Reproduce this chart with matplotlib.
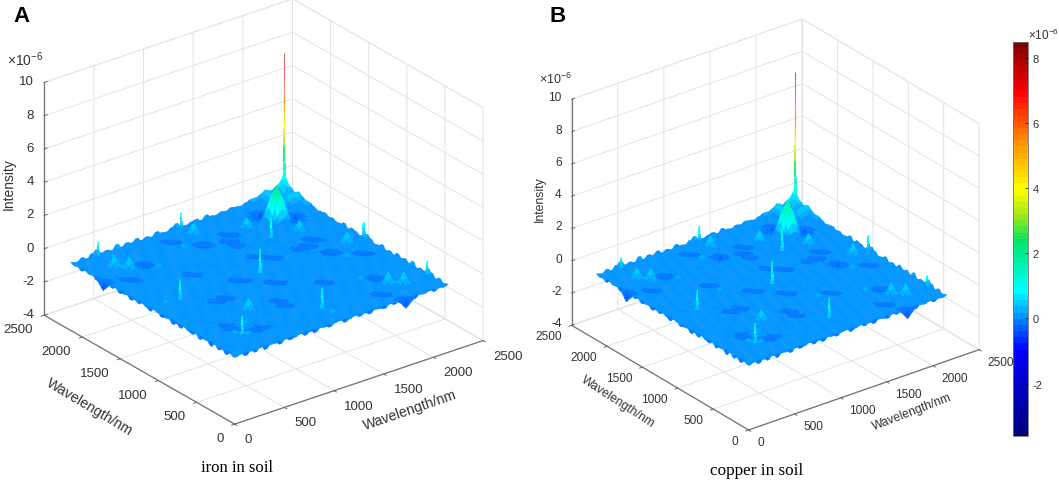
"""Two 2D correlation surfaces (iron and copper in soil) with a shared colorbar."""

import matplotlib

matplotlib.use("Agg")
import matplotlib.pyplot as plt
import numpy as np
from matplotlib.cm import ScalarMappable
from matplotlib.colors import LinearSegmentedColormap, Normalize
from mpl_toolkits.mplot3d import proj3d

plt.rcParams["font.family"] = ["Liberation Sans", "DejaVu Sans"]
plt.rcParams["mathtext.default"] = "regular"
plt.rcParams["axes.unicode_minus"] = False

W, H = 1059, 481
gray = (0.2, 0.2, 0.2)

wavelength_step = 25
wavelength_max = 2150
axis_ticks = [0, 500, 1000, 1500, 2000, 2500]
z_ticks = [-4, -2, 0, 2, 4, 6, 8, 10]
colorbar_ticks = [-2, 0, 2, 4, 6, 8]
z_min, z_max = -3.6, 8.5

# colour stops of the figure's colorbar: intensity, colour
stop_z = [-3.6, -1.0, 0.8, 2.4, 3.1, 4.0, 5.5, 7.0, 8.5]
stop_rgb = [(0, 0, 0.5), (0, 0, 1), (0, 1, 1), (0, 0.9, 0.4), (0.6, 0.9, 0.1),
            (1, 1, 0), (1, 0.55, 0), (1, 0, 0), (0.5, 0, 0)]

# the large cone in front of the main spike
cone_x, cone_y = 1800, 1800
cone_iron, cone_copper = 2.0, 1.95

# broad bumps, mirrored across the diagonal (x, y in nm, height in 1e-6)
broad_x = [1510, 1100, 300, 215, 885, 600, 1950, 2050, 2100, 2000]
broad_y = [1810, 1970, 1770, 1880, 1800, 600, 2100, 1950, 2100, 2000]
broad_iron = [0.7, 0.7, 0.8, 0.8, 0.4, 0.8, 0.5, 0.5, 0.6, 0.4]
broad_copper = [0.7, 0.75, 0.8, 0.75, 0.45, 0.7, 0.6, 0.4, 0.6, 0.5]

# small bumps
small_x = [500, 1000, 850, 650, 425, 1300, 1250, 150, 750, 325, 1500, 400, 200, 1600, 700]
small_y = [1650, 1250, 1450, 1250, 425, 1500, 800, 1100, 150, 250, 1450, 1000, 575, 1150, 400]
small_iron = [0.3, 0.25, 0.2, 0.25, 0.3, 0.25, 0.2, 0.3, 0.2, 0.3, 0.2, 0.2, 0.25, 0.2, 0.2]
small_copper = [0.3, 0.2, 0.25, 0.3, 0.35, 0.2, 0.25, 0.25, 0.25, 0.35, 0.2, 0.25, 0.2, 0.2, 0.25]

# dents
dent_x = [1335, 1050, 455, 870, 1760, 0, 880, 1070, 1250, 650, 200, 1900, 900, 500, 300, 1700, 1350, 600]
dent_y = [1800, 1780, 1770, 1980, 1950, 1720, 1090, 900, 1600, 1400, 1620, 1700, 500, 300, 425, 1250, 1250, 900]
dent_iron = [-0.25, -0.35, -0.35, -0.2, -0.4, -0.35, -0.14, -0.14, -0.18, -0.14, -0.18,
             -0.35, -0.1, -0.1, -0.1, -0.14, -0.12, -0.12]
dent_copper = [-0.25, -0.4, -0.35, -0.2, -0.4, -0.4, -0.12, -0.15, -0.18, -0.16, -0.2,
               -0.35, -0.14, -0.1, -0.14, -0.12, -0.14, -0.14]

# intensity along the far rim (y = 2150) and the near rim (y = 0), every 50 nm
rim_far = [0.05, 0.0, 0.15, 0.0, 0.2, 0.35, 0.05, 0.1, 0.0, 0.25, 0.0, 0.15, 0.05, 0.2, 0.0, 0.1,
           0.0, 0.2, 0.05, 0.0, 0.15, 0.3, 0.05, 0.0, 0.1, 0.15, 0.0, 0.2, 0.05, 0.0, 0.1, 0.05,
           0.15, 0.1, 0.05, 0.15, 0.25, 0.25, 0.3, 0.4, 0.35, 0.45, 0.5, 0.55]
rim_near = [0.0, 0.08, -0.1, 0.05, -0.08, 0.1, -0.12, 0.05, 0.03, -0.1, 0.08, -0.05, 0.0, 0.1,
            -0.08, 0.03, -0.12, 0.05, 0.0, -0.08, 0.05, 0.1, -0.1, 0.0, 0.08, -0.05, 0.03, -0.1,
            0.05, 0.0, -0.08, 0.08, -0.03, 0.05, -0.15, -0.2, -0.1, 0.05, 0.0, 0.08, -0.05, 0.05, 0.0, 0.05]

# thin spikes, drawn from the sheet upward: x, y, top
needle_x = [1100, 300, 285, 1550, 1110, 255, 2150]
needle_y = [1100, 300, 1095, 1550, 2150, 2130, 1120]
needle_iron = [1.5, 1.2, 1.3, 1.3, 0.9, 0.9, 0.9]
needle_copper = [1.5, 1.3, 1.3, 1.4, 0.9, 0.7, 0.9]
needle_mirror = [False, False, True, False, True, True, False]
needle_steps = [0.0, 0.15, 0.3, 0.45, 0.6, 0.75, 0.9, 1.0]
needle_widths = [2.6, 2.2, 1.9, 1.6, 1.3, 1.1, 0.9]

# the main spike at the far corner
spike_levels = [0.3, 0.8, 1.3, 1.8, 2.3, 2.8, 3.3, 3.8, 4.3, 4.8, 5.3, 5.8, 6.3, 6.8, 7.3, 7.8, 8.35]
spike_widths = [3.0, 2.4, 2.0, 1.6, 1.4, 1.2, 1.1, 1.0, 1.0, 0.9, 0.9, 0.9, 0.8, 0.8, 0.8, 0.8]

cone_kernel = np.array([
    [0.00, 0.02, 0.08, 0.13, 0.16, 0.13, 0.08, 0.02, 0.00],
    [0.02, 0.12, 0.24, 0.34, 0.40, 0.34, 0.24, 0.12, 0.02],
    [0.08, 0.24, 0.42, 0.56, 0.64, 0.56, 0.42, 0.24, 0.08],
    [0.13, 0.34, 0.56, 0.74, 0.84, 0.74, 0.56, 0.34, 0.13],
    [0.16, 0.40, 0.64, 0.84, 1.00, 0.84, 0.64, 0.40, 0.16],
    [0.13, 0.34, 0.56, 0.74, 0.84, 0.74, 0.56, 0.34, 0.13],
    [0.08, 0.24, 0.42, 0.56, 0.64, 0.56, 0.42, 0.24, 0.08],
    [0.02, 0.12, 0.24, 0.34, 0.40, 0.34, 0.24, 0.12, 0.02],
    [0.00, 0.02, 0.08, 0.13, 0.16, 0.13, 0.08, 0.02, 0.00],
])
broad_kernel = np.array([
    [0.00, 0.00, 0.04, 0.08, 0.04, 0.00, 0.00],
    [0.00, 0.06, 0.16, 0.25, 0.16, 0.06, 0.00],
    [0.04, 0.16, 0.42, 0.60, 0.42, 0.16, 0.04],
    [0.08, 0.25, 0.60, 1.00, 0.60, 0.25, 0.08],
    [0.04, 0.16, 0.42, 0.60, 0.42, 0.16, 0.04],
    [0.00, 0.06, 0.16, 0.25, 0.16, 0.06, 0.00],
    [0.00, 0.00, 0.04, 0.08, 0.04, 0.00, 0.00],
])
small_kernel = np.array([
    [0.00, 0.10, 0.20, 0.10, 0.00],
    [0.10, 0.40, 0.65, 0.40, 0.10],
    [0.20, 0.65, 1.00, 0.65, 0.20],
    [0.10, 0.40, 0.65, 0.40, 0.10],
    [0.00, 0.10, 0.20, 0.10, 0.00],
])
# dents run across the diagonal
dent_kernel = np.array([
    [0.00, 0.00, 0.10, 0.30, 0.20],
    [0.00, 0.10, 0.50, 0.70, 0.30],
    [0.10, 0.50, 1.00, 0.50, 0.10],
    [0.30, 0.70, 0.50, 0.10, 0.00],
    [0.20, 0.30, 0.10, 0.00, 0.00],
])

cmap = LinearSegmentedColormap.from_list(
    "band_jet",
    [((z - z_min) / (z_max - z_min), c) for z, c in zip(stop_z, stop_rgb)],
    N=64,
)
norm = Normalize(z_min, z_max)


def stamp(surface, x, y, height, kernel):
    """Add one bump to the surface, and its mirror image off the diagonal."""
    r = kernel.shape[0] // 2
    last = surface.shape[0] - 1
    places = [(x, y)] if x == y else [(x, y), (y, x)]
    for px, py in places:
        i0, j0 = round(py / wavelength_step), round(px / wavelength_step)
        for di in range(-r, r + 1):
            for dj in range(-r, r + 1):
                i, j = i0 + di, j0 + dj
                if 0 <= i <= last and 0 <= j <= last:
                    surface[i, j] += height * kernel[di + r, dj + r]


def build_surface(cone, broad, small, dent):
    count = wavelength_max // wavelength_step + 1
    surface = np.zeros((count, count))
    stamp(surface, cone_x, cone_y, cone, cone_kernel)
    for x, y, h in zip(broad_x, broad_y, broad):
        stamp(surface, x, y, h, broad_kernel)
    for x, y, h in zip(small_x, small_y, small):
        stamp(surface, x, y, h, small_kernel)
    for x, y, h in zip(dent_x, dent_y, dent):
        stamp(surface, x, y, h, dent_kernel)
    far = np.repeat(rim_far, 2)[:count]
    near = np.repeat(rim_near, 2)[:count]
    surface[-1, :] += far
    surface[:, -1] += far
    surface[-2, :] += 0.5 * far
    surface[:, -2] += 0.5 * far
    surface[0, :] += near
    surface[:, 0] += near
    return surface


def add_text(x, y, text, **kwargs):
    kwargs.setdefault("ha", "center")
    kwargs.setdefault("va", "center")
    plt.gcf().text(x / W, 1 - y / H, text, **kwargs)


def tick_text(ax, point, text, dx, dy, ha, size):
    px, py, _ = proj3d.proj_transform(*point, ax.get_proj())
    ax.annotate(text, (px, py), xytext=(dx, dy), textcoords="offset pixels", ha=ha, va="center",
                fontsize=size, color=gray, annotation_clip=False)


def draw_panel(fig, center, side, elev, z_scale, tick_size, offsets, cone, broad, small, dent, needles):
    left = center[0] - 0.95 / 1.85 * side
    bottom = H - center[1] - 0.95 / 1.85 * side
    ax = fig.add_axes([left / W, bottom / H, side / W, side / H],
                      projection="3d", computed_zorder=False)
    ax.patch.set_alpha(0)
    ax.set_proj_type("ortho")
    ax.view_init(elev=elev, azim=-127.5)
    ax.set_box_aspect((1, 1, z_scale), zoom=1)
    ax.set_xlim(0, 2500, view_margin=0)
    ax.set_ylim(0, 2500, view_margin=0)
    ax.set_zlim(-4, 10, view_margin=0)
    ax.set_xticks(axis_ticks)
    ax.set_yticks(axis_ticks)
    ax.set_zticks(z_ticks)
    ax.set_xticklabels([])
    ax.set_yticklabels([])
    ax.set_zticklabels([])

    for axis in (ax.xaxis, ax.yaxis, ax.zaxis):
        axis.pane.set_facecolor((1, 1, 1, 0))
        axis.pane.set_edgecolor((0.86, 0.86, 0.86))
        axis.pane.set_linewidth(0.7)
        axis.line.set_color((0.45, 0.45, 0.45))
        axis.line.set_linewidth(0.9)
        axis._axinfo["grid"].update(color=(0.89, 0.89, 0.89), linewidth=0.7)
        axis._axinfo["tick"].update(inward_factor=0.15, outward_factor=0.0)
        axis._axinfo["tick"]["linewidth"] = {True: 0.7, False: 0.5}
        axis._axinfo["tick"]["color"] = (0.4, 0.4, 0.4)
    ax.zaxis._axinfo["tick"].update(inward_factor=0.0, outward_factor=0.15)
    ax.tick_params(color=(0.4, 0.4, 0.4))

    x_off, y_off, z_off = offsets
    for t in axis_ticks:
        tick_text(ax, (t, 0, -4), str(t), x_off[0], x_off[1], "left", tick_size)
        tick_text(ax, (0, t, -4), str(t), y_off[0], y_off[1], "right", tick_size)
    for t in z_ticks:
        tick_text(ax, (0, 2500, t), str(t), z_off[0], z_off[1], "right", tick_size)

    # main spike sits behind the sheet
    for k, lw in enumerate(spike_widths):
        z0, z1 = spike_levels[k], spike_levels[k + 1]
        ax.plot([wavelength_max] * 2, [wavelength_max] * 2, [z0, z1], lw=lw,
                color=cmap(norm((z0 + z1) / 2)), alpha=0.9 if z1 < 6 else 0.6,
                solid_capstyle="butt", zorder=1)

    grid = np.arange(0, wavelength_max + 1, wavelength_step)
    xx, yy = np.meshgrid(grid, grid)
    zz = build_surface(cone, broad, small, dent)
    sheet = ax.plot_surface(xx, yy, zz, rstride=1, cstride=1, cmap=cmap, norm=norm, shade=False,
                            linewidth=0, antialiased=False, zorder=2)
    sheet.set_edgecolor("face")
    sheet.set_linewidth(0.3)
    sheet.set_antialiased(True)

    for x, y, top, mirror in zip(needle_x, needle_y, needles, needle_mirror):
        places = [(x, y), (y, x)] if mirror else [(x, y)]
        for px, py in places:
            for k, lw in enumerate(needle_widths):
                z0, z1 = top * needle_steps[k], top * needle_steps[k + 1]
                ax.plot([px, px], [py, py], [z0, z1], lw=lw,
                        color=cmap(norm(0.25 + z1 * 0.75)), solid_capstyle="butt", zorder=3)
    return ax


fig = plt.figure(figsize=(W / 100, H / 100), dpi=100)

draw_panel(fig, (263.6, 212.5), 497.9, 26, 0.8275, 9.5,
           ((10, -15), (-11, -14), (-10, 1)),
           cone_iron, broad_iron, small_iron, dent_iron, needle_iron)
draw_panel(fig, (775.4, 225.5), 468.8, 27, 0.873, 8.6,
           ((8.5, -12), (-10, -11), (-10, 2)),
           cone_copper, broad_copper, small_copper, dent_copper, needle_copper)

add_text(22, 16, "A", fontsize=16, fontweight="bold", color="black")
add_text(558, 16, "B", fontsize=16, fontweight="bold", color="black")
exponent = r"$\times 10^{-6}$"
add_text(25, 60, exponent, fontsize=10, color=gray)
add_text(555, 79, exponent, fontsize=9, color=gray)
add_text(9, 184, "Intensity", fontsize=10, rotation=90, color=gray)
add_text(540, 199, "Intensity", fontsize=8.8, rotation=90, color=gray)
add_text(90, 407, "Wavelength/nm", fontsize=10.2, rotation=-31, color=gray)
add_text(410, 410, "Wavelength/nm", fontsize=10.2, rotation=19, color=gray)
add_text(618, 402, "Wavelength/nm", fontsize=8.8, rotation=-33, color=gray)
add_text(912, 412, "Wavelength/nm", fontsize=8.7, rotation=21, color=gray)
add_text(237, 468, "iron in soil", fontsize=12, family="Liberation Serif", color="black")
add_text(757, 471, "copper in soil", fontsize=12.3, family="Liberation Serif", color="black")

cax = fig.add_axes([1012.7 / W, 1 - 436.7 / H, 15.6 / W, 394 / H])
bar = fig.colorbar(ScalarMappable(norm=norm, cmap=cmap), cax=cax, ticks=colorbar_ticks)
bar.ax.tick_params(labelsize=8, labelcolor=gray, length=2, direction="in", width=0.5, pad=3)
bar.outline.set_edgecolor((0.45, 0.45, 0.45))
bar.outline.set_linewidth(0.6)
add_text(1043, 35, exponent, fontsize=8.5, color=gray)

fig.savefig("out.png", dpi=100)
plt.close(fig)
